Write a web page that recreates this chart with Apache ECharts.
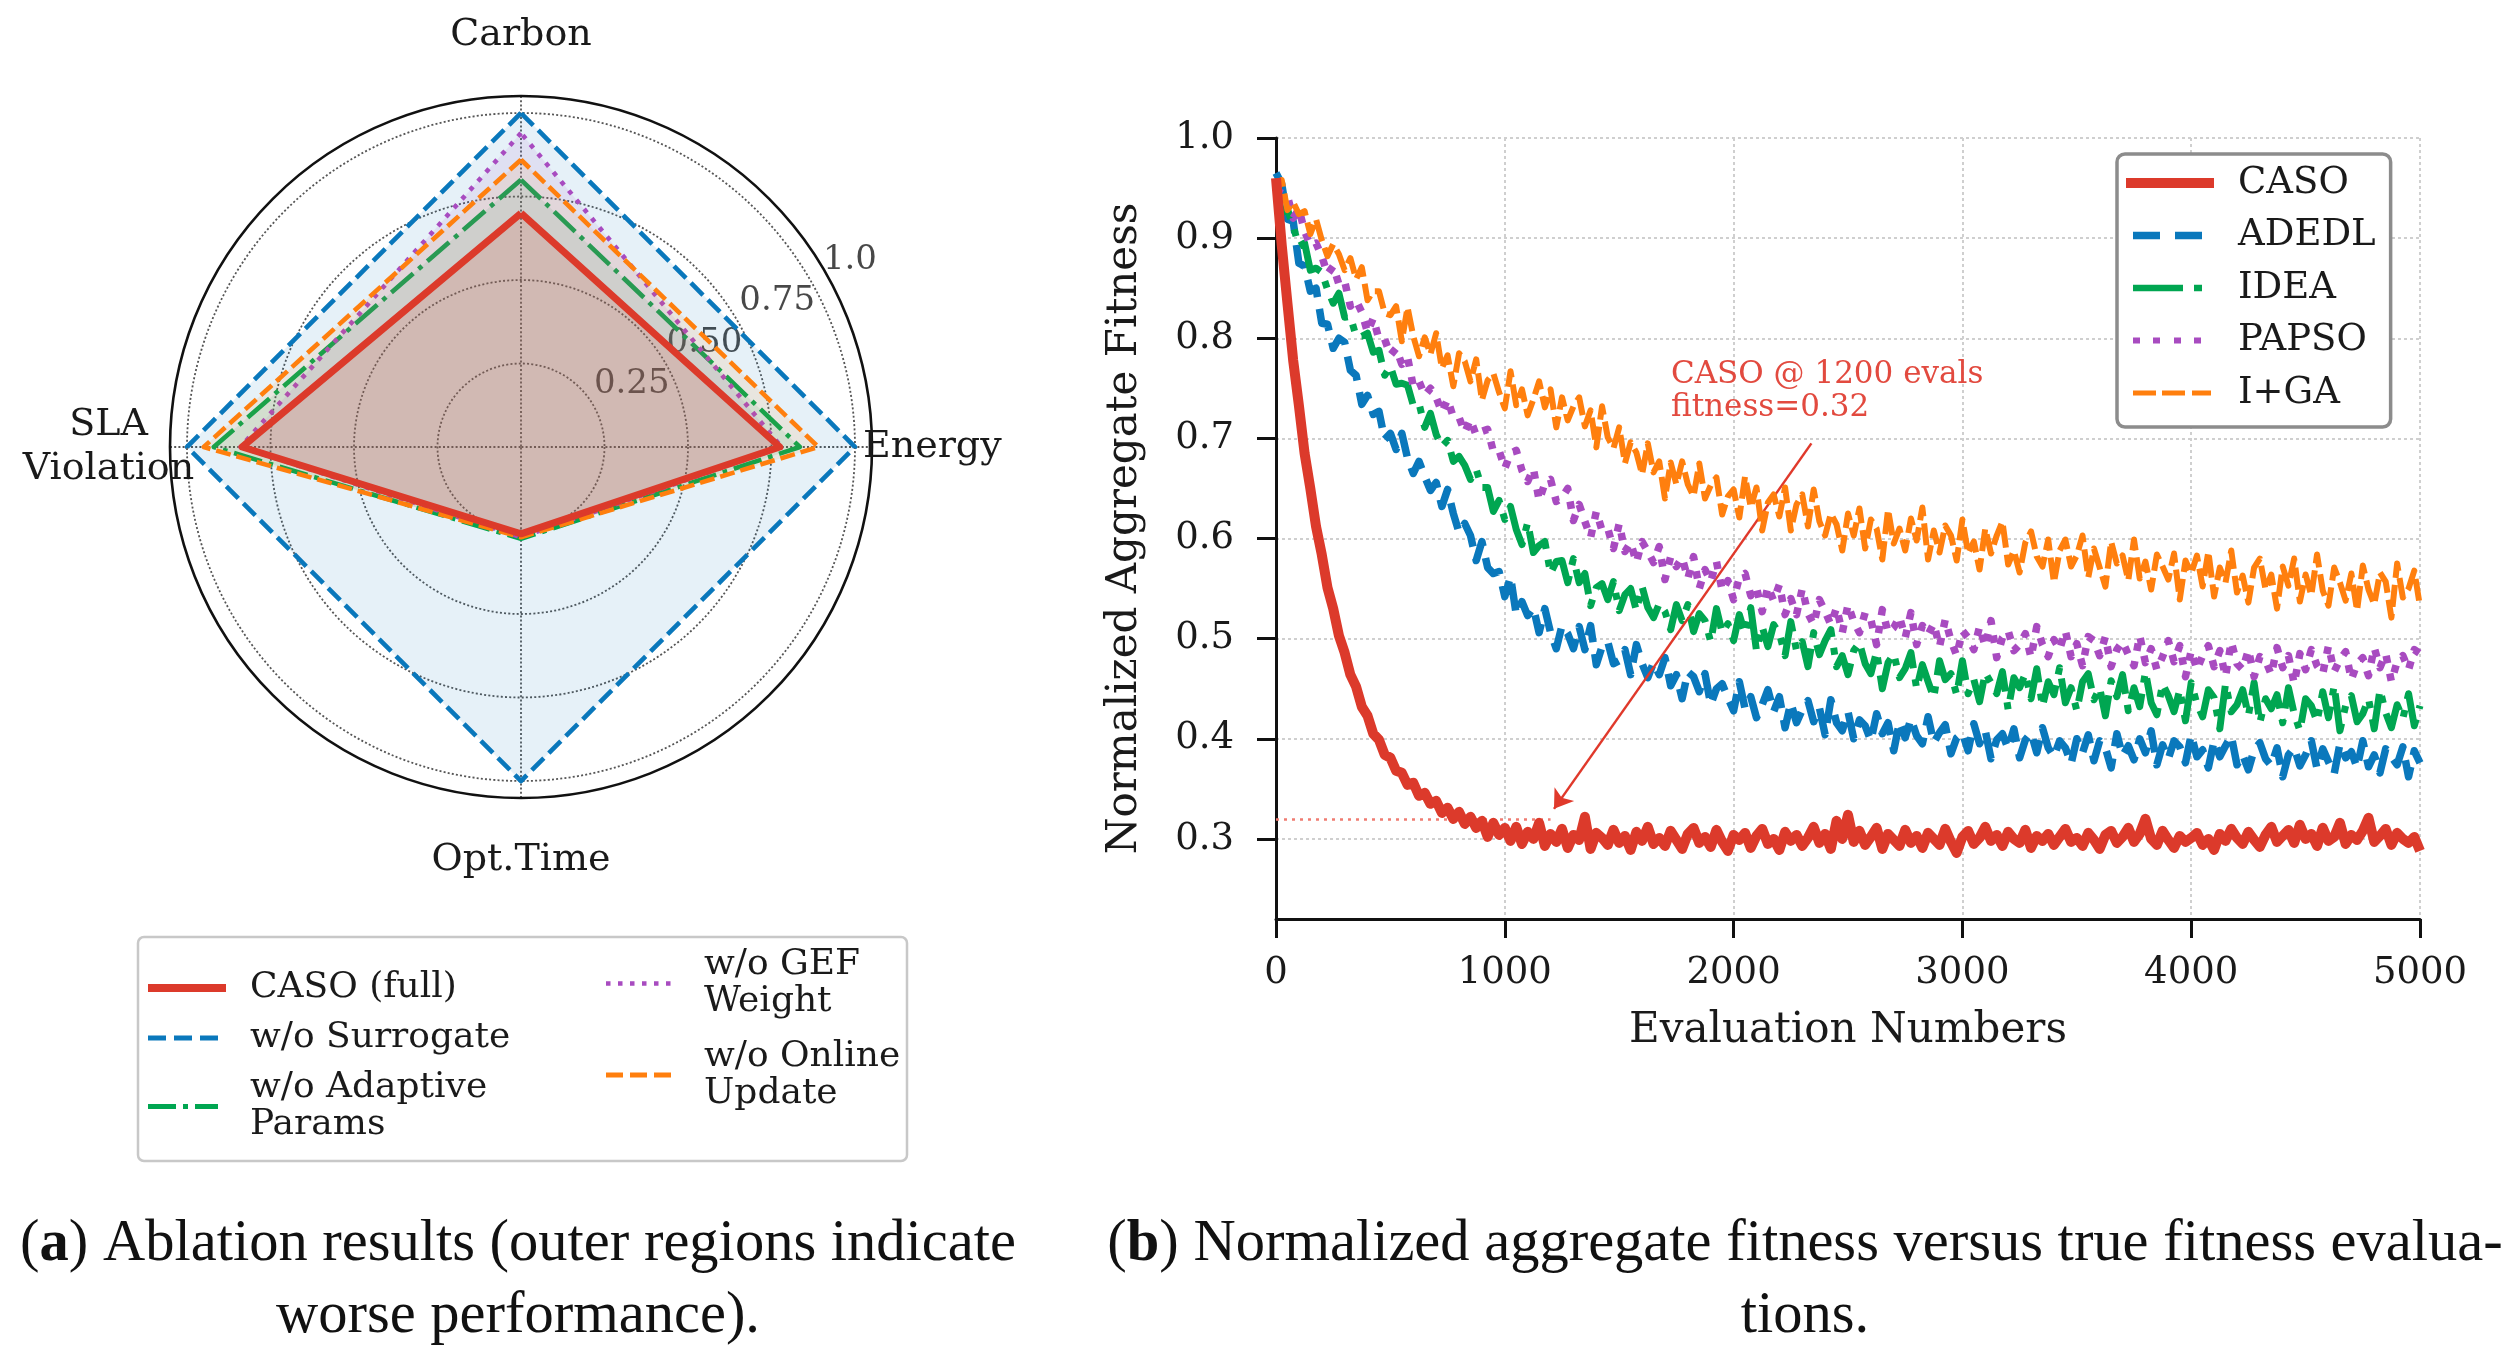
<!DOCTYPE html>
<html><head><meta charset="utf-8">
<script src="https://cdn.jsdelivr.net/npm/echarts@6/dist/echarts.min.js"></script>
<style>html,body{margin:0;padding:0;background:#fff}#c{width:2506px;height:1360px}</style>
</head><body><div id="c"></div>
<script>
// ---------- radar (ablation) ----------
const radarAxes = ['Carbon', 'SLA\nViolation', 'Opt.Time', 'Energy'];
const radarCASO = [0.70, 0.835, 0.26, 0.775];
const radarNoSurrogate = [1.0, 1.0, 1.0, 1.0];
const radarNoAdaptive = [0.80, 0.92, 0.275, 0.835];
const radarNoGEF = [0.94, 0.84, 0.27, 0.78];
const radarNoOnline = [0.86, 0.95, 0.27, 0.89];
const radialTicks = [0.25, 0.5, 0.75, 1.0];
const radialTickLabels = ['0.25', '0.50', '0.75', '1.0'];
const radarNames = ['CASO (full)', 'w/o Surrogate', 'w/o Adaptive\nParams', 'w/o GEF\nWeight', 'w/o Online\nUpdate'];

// ---------- convergence curves ----------
const evalStep = 25;
const lineNames = ['CASO', 'ADEDL', 'IDEA', 'PAPSO', 'I+GA'];
const xTicks = [0, 1000, 2000, 3000, 4000, 5000];
const yTicks = [0.3, 0.4, 0.5, 0.6, 0.7, 0.8, 0.9, 1.0];
const fitCASO = [
0.960,0.893,0.835,0.778,0.733,0.685,0.650,0.612,0.584,0.551,
0.530,0.503,0.486,0.464,0.452,0.432,0.423,0.405,0.399,0.384,
0.381,0.368,0.366,0.354,0.356,0.343,0.346,0.335,0.338,0.326,
0.331,0.320,0.327,0.315,0.322,0.311,0.318,0.302,0.316,0.304,
0.311,
0.298,0.312,0.295,0.307,0.300,0.316,0.293,0.305,0.297,0.310,0.291,0.304,0.299,0.322,0.290,0.306,0.301,0.294,0.309,0.296,
0.303,0.289,0.307,0.298,0.312,0.295,0.301,0.293,0.308,0.299,0.290,0.305,0.311,0.296,0.302,0.292,0.309,0.297,0.288,0.304,
0.299,0.306,0.291,0.303,0.310,0.295,0.300,0.289,0.307,0.298,0.304,0.293,0.301,0.312,0.296,0.305,0.290,0.318,0.300,0.324,
0.297,0.308,0.294,0.302,0.311,0.290,0.305,0.299,0.293,0.309,0.296,0.303,0.291,0.306,0.300,0.294,0.310,0.297,0.286,0.302,
0.308,0.295,0.301,0.312,0.298,0.304,0.293,0.307,0.300,0.296,0.309,0.291,0.303,0.298,0.305,0.294,0.302,0.310,0.297,0.301,
0.293,0.306,0.299,0.290,0.304,0.308,0.296,0.302,0.311,0.297,0.305,0.320,0.300,0.294,0.308,0.299,0.291,0.303,0.297,0.301,
0.306,0.294,0.300,0.289,0.305,0.298,0.310,0.301,0.295,0.307,0.299,0.292,0.304,0.312,0.297,0.303,0.309,0.296,0.314,0.300,
0.305,0.293,0.311,0.298,0.302,0.316,0.295,0.304,0.299,0.308,0.321,0.297,0.303,0.310,0.294,0.306,0.300,0.296,0.302,0.288];
const fitADEDL = [
.965,.954,.919,.917,.875,.872,.847,.850,.815,.814,
.790,.800,.796,.768,.763,.734,.743,.724,.727,.699,
.705,.689,.705,.680,.665,.677,.662,.648,.656,.632,
.649,.625,.606,.615,.603,.578,.597,.571,.565,.567,
.542,.562,.524,.537,.523,.531,.506,.530,.506,.490,
.513,.505,.490,.512,.489,.513,.474,.492,.497,.475,
.478,.489,.464,.494,.475,.461,.476,.464,.481,.453,
.464,.440,.467,.462,.447,.465,.434,.450,.455,.441,
.428,.457,.430,.442,.421,.434,.449,.427,.442,.411,
.436,.416,.429,.438,.417,.431,.404,.439,.416,.408,
.427,.400,.419,.413,.398,.425,.405,.416,.388,.417,
.401,.420,.403,.395,.422,.396,.406,.414,.385,.401,
.406,.388,.415,.395,.408,.380,.399,.405,.390,.410,
.381,.399,.406,.386,.411,.391,.382,.398,.391,.375,
.400,.386,.404,.378,.398,.391,.371,.405,.383,.393,
.379,.400,.386,.408,.374,.394,.380,.398,.392,.376,
.404,.382,.389,.371,.398,.382,.393,.403,.374,.384,
.369,.389,.396,.380,.373,.391,.362,.384,.391,.373,
.384,.398,.370,.390,.377,.365,.395,.381,.387,.371,
.398,.372,.384,.366,.390,.382,.374,.392,.362,.388,
.376];
const fitIDEA = [
.952,.925,.929,.912,.892,.895,.868,.870,.866,.849,
.835,.845,.821,.822,.802,.802,.805,.786,.788,.763,
.772,.754,.755,.753,.733,.735,.711,.725,.704,.692,
.698,.677,.682,.673,.659,.669,.651,.651,.627,.638,
.619,.632,.609,.594,.616,.586,.593,.597,.565,.577,
.578,.556,.580,.556,.565,.533,.551,.555,.539,.557,
.528,.544,.550,.528,.552,.531,.521,.535,.527,.509,
.534,.518,.534,.507,.525,.518,.497,.530,.506,.515,
.498,.524,.505,.531,.488,.512,.492,.514,.505,.483,
.517,.488,.497,.472,.506,.484,.498,.509,.472,.483,
.464,.488,.496,.475,.465,.487,.450,.476,.485,.461,
.470,.486,.450,.474,.457,.441,.478,.459,.465,.444,
.478,.445,.459,.437,.466,.456,.445,.467,.429,.461,
.451,.465,.440,.470,.432,.457,.444,.471,.436,.451,
.428,.457,.465,.439,.451,.423,.458,.442,.464,.428,
.451,.432,.467,.436,.424,.455,.443,.427,.449,.418,
.456,.435,.422,.449,.441,.410,.455,.427,.434,.449,
.423,.456,.416,.440,.430,.444,.416,.451,.425,.408,
.440,.433,.417,.447,.421,.453,.408,.433,.443,.417,
.425,.440,.410,.449,.426,.411,.434,.420,.445,.413,
.433];
const fitPAPSO = [
.941,.945,.942,.920,.929,.907,.893,.895,.882,.864,
.872,.854,.857,.832,.838,.826,.806,.820,.799,.799,
.783,.790,.774,.781,.752,.757,.743,.750,.741,.726,
.739,.721,.721,.706,.719,.703,.707,.709,.687,.688,
.670,.685,.688,.668,.657,.670,.638,.655,.659,.637,
.641,.650,.618,.634,.617,.601,.627,.608,.610,.590,
.615,.587,.596,.576,.597,.587,.576,.592,.559,.582,
.572,.581,.560,.582,.550,.569,.557,.577,.548,.558,
.539,.561,.565,.543,.551,.527,.552,.538,.554,.524,
.540,.524,.550,.525,.514,.539,.527,.514,.531,.506,
.534,.517,.506,.526,.519,.494,.529,.506,.511,.522,
.501,.526,.494,.513,.504,.515,.492,.519,.498,.483,
.508,.501,.489,.512,.492,.518,.481,.501,.508,.488,
.494,.505,.481,.512,.494,.482,.499,.489,.508,.482,
.495,.473,.502,.498,.483,.502,.472,.489,.497,.484,
.473,.503,.476,.490,.469,.482,.498,.477,.493,.462,
.488,.469,.483,.493,.472,.488,.462,.497,.475,.469,
.489,.462,.482,.478,.464,.491,.471,.483,.455,.485,
.469,.489,.473,.465,.493,.467,.479,.487,.459,.475,
.481,.463,.491,.471,.485,.457,.477,.483,.469,.489,
.485];
const fitIGA = [
.944,.958,.928,.936,.924,.927,.904,.919,.898,.882,
.894,.884,.868,.880,.859,.871,.838,.847,.847,.825,
.823,.832,.797,.831,.802,.782,.801,.784,.805,.770,
.783,.752,.785,.777,.757,.779,.738,.758,.765,.746,
.730,.767,.733,.749,.723,.739,.757,.731,.749,.711,
.741,.718,.732,.741,.712,.728,.691,.732,.701,.690,
.711,.675,.696,.686,.664,.695,.666,.677,.640,.676,
.654,.677,.654,.642,.675,.640,.653,.661,.624,.642,
.649,.621,.662,.631,.651,.608,.636,.644,.622,.651,
.608,.634,.644,.612,.649,.617,.603,.625,.614,.588,
.625,.603,.630,.590,.619,.610,.579,.629,.595,.610,
.588,.620,.598,.631,.579,.608,.586,.613,.603,.578,
.619,.585,.597,.569,.610,.585,.603,.617,.574,.588,
.566,.596,.607,.582,.572,.599,.556,.588,.599,.572,
.583,.603,.561,.590,.571,.552,.597,.575,.583,.558,
.599,.560,.577,.549,.584,.572,.559,.585,.539,.578,
.565,.583,.552,.587,.542,.571,.556,.588,.546,.563,
.536,.571,.580,.549,.564,.530,.572,.553,.580,.537,
.564,.543,.584,.548,.533,.571,.556,.538,.565,.528,
.573,.549,.534,.566,.557,.521,.575,.541,.550,.568,
.532];
// annotation (data space)
const annotText = 'CASO @ 1200 evals\nfitness=0.32';
const annotTextAt = [1724, 0.7465];
const arrowFrom = [2340, 0.695];
const arrowTo = [1215, 0.33];
const refLevel = 0.32;
const refLevelEnd = 1200;

// ---------- styles ----------
const C = { red: '#dc3a2b', blue: '#0a78bc', green: '#00a651', purple: '#a84bc0', orange: '#ff7f0e' };
const SERIF = 'DejaVu Serif';
const speck = (w, h) => 'M0,0h0.01v0.01h-0.01z M' + (w - 0.01) + ',' + (h - 0.01) + 'h0.01v0.01h-0.01z ';
const bars = (segs, y0, y1) => segs.map(s => 'M' + s[0] + ',' + y0 + 'H' + s[1] + 'V' + y1 + 'H' + s[0] + 'Z').join(' ');
// radar legend icons (78x8 / 68x8)
const rIcon = {
  red: 'path://M0,0H78V8H0Z',
  blue: 'path://' + speck(78, 8) + bars([[0, 18], [26, 44], [52, 70]], 1.5, 6.5),
  green: 'path://' + speck(78, 8) + bars([[0, 28], [35, 40], [47, 70]], 1.5, 6.5),
  purple: 'path://' + speck(68, 8) + bars([[0, 4.5], [12, 16.5], [24, 28.5], [36, 40.5], [48, 52.5], [60, 64.5]], 1.75, 6.25),
  orange: 'path://' + speck(68, 8) + bars([[0, 17], [24, 41], [48, 65]], 1.5, 6.5)
};
// line legend icons (88x10)
const lIcon = {
  red: 'path://M0,0H88V10H0Z',
  blue: 'path://' + speck(88, 10) + bars([[7, 34], [49, 76]], 1.2, 8.8),
  green: 'path://' + speck(88, 10) + bars([[7, 57], [68, 76]], 1.7, 8.3),
  purple: 'path://' + speck(88, 10) + bars([[7, 14], [27, 34], [48, 55], [68, 75]], 2, 8),
  orange: 'path://' + speck(88, 10) + bars([[7, 30], [36, 59], [66, 85]], 2.5, 7.5)
};

function radarSeries(name, values, color, width, type, areaOpacity, z) {
  return {
    type: 'radar', radarIndex: 0, name: name, z: z, symbol: 'none', silent: true,
    itemStyle: { color: color },
    lineStyle: { color: color, width: width, type: type },
    areaStyle: { color: color, opacity: areaOpacity },
    data: [{ name: name, value: values }]
  };
}
function lineSeries(name, values, color, width, type, z, extra) {
  return Object.assign({
    type: 'line', name: name, z: z, symbol: 'none', showSymbol: false, silent: true,
    itemStyle: { color: color },
    lineStyle: { color: color, width: width, type: type, join: 'round' },
    data: values.map((v, i) => [i * evalStep, v])
  }, extra || {});
}

const chart = echarts.init(document.getElementById('c'));
const capStyle = { fontFamily: 'Liberation Serif', fontSize: 58.5, fontWeight: 'normal', lineHeight: 72, color: '#111',
  rich: { b: { fontFamily: 'Liberation Serif', fontSize: 58.5, fontWeight: 'bold', lineHeight: 72, color: '#111' } } };
const option = {
  animation: false,
  backgroundColor: '#ffffff',
  title: [
    { text: '({b|a}) Ablation results (outer regions indicate\nworse performance).', left: 513, top: 1204, textAlign: 'center', textStyle: capStyle },
    { text: '({b|b}) Normalized aggregate fitness versus true fitness evalua-\ntions.', left: 1800, top: 1204, textAlign: 'center', textStyle: capStyle }
  ],
  graphic: [
    { type: 'rect', z: 0, shape: { x: 138, y: 937, width: 769, height: 224, r: 6 }, style: { fill: '#ffffff', stroke: '#c8c8c8', lineWidth: 2.5 } }
  ],
  legend: [
    { orient: 'vertical', left: 148, top: 969.5, padding: 0, itemGap: 13, itemWidth: 78, itemHeight: 8,
      itemStyle: { borderWidth: 0 },
      textStyle: { fontFamily: SERIF, fontSize: 36, lineHeight: 37, color: '#1a1a1a', padding: [0, 0, 0, 19] },
      data: [{ name: radarNames[0], icon: rIcon.red }, { name: radarNames[1], icon: rIcon.blue }, { name: radarNames[2], icon: rIcon.green }] },
    { orient: 'vertical', left: 606, top: 946.5, padding: 0, itemGap: 17.5, itemWidth: 68, itemHeight: 8,
      itemStyle: { borderWidth: 0 },
      textStyle: { fontFamily: SERIF, fontSize: 36, lineHeight: 37, color: '#1a1a1a', padding: [0, 0, 0, 25] },
      data: [{ name: radarNames[3], icon: rIcon.purple }, { name: radarNames[4], icon: rIcon.orange }] },
    { orient: 'vertical', left: 2117, top: 154, padding: [9, 15, 14, 9], itemGap: 12.5, itemWidth: 88, itemHeight: 10,
      backgroundColor: '#ffffff', borderColor: '#8c8c8c', borderWidth: 3.5, borderRadius: 8,
      itemStyle: { borderWidth: 0 },
      textStyle: { fontFamily: SERIF, fontSize: 37, lineHeight: 40, color: '#1a1a1a', padding: [0, 0, 0, 19] },
      data: [{ name: lineNames[0], icon: lIcon.red }, { name: lineNames[1], icon: lIcon.blue }, { name: lineNames[2], icon: lIcon.green },
             { name: lineNames[3], icon: lIcon.purple }, { name: lineNames[4], icon: lIcon.orange }] }
  ],
  radar: [{
    center: [521, 447], radius: 334, startAngle: 90, shape: 'circle', splitNumber: 4,
    indicator: radarAxes.map(n => ({ name: n, min: 0, max: 1 })),
    axisNameGap: -9,
    axisName: {
      color: '#1a1a1a', fontFamily: SERIF, fontSize: 38,
      formatter: function (name) {
        if (name === 'Carbon') return '{t|Carbon}';
        if (name === 'Energy') return '{r|Energy}';
        if (name === 'Opt.Time') return '{bt|Opt.Time}';
        return name.split('\n').map(s => '{l|' + s + '}').join('\n');
      },
      rich: {
        t: { fontFamily: SERIF, fontSize: 38, lineHeight: 174, color: '#1a1a1a' },
        r: { fontFamily: SERIF, fontSize: 38, lineHeight: 44, padding: [0, 0, 0, 17], color: '#1a1a1a' },
        bt: { fontFamily: SERIF, fontSize: 38, lineHeight: 176, color: '#1a1a1a' },
        l: { fontFamily: SERIF, fontSize: 38, lineHeight: 44, width: 175, align: 'center', color: '#1a1a1a' }
      }
    },
    axisLine: { show: false }, axisTick: { show: false }, axisLabel: { show: false },
    splitLine: { lineStyle: { color: '#555555', width: 1.8, type: [2, 2.2] } },
    splitArea: { show: false }
  }],
  polar: [{ center: [521, 447], radius: 351 }],
  angleAxis: [{
    polarIndex: 0, type: 'value', min: 0, max: 360, interval: 90, startAngle: 0, clockwise: false,
    axisLine: { show: true, lineStyle: { color: '#111111', width: 2.6 } },
    axisTick: { show: false }, axisLabel: { show: false },
    splitLine: { show: true, lineStyle: { color: '#555555', width: 1.8, type: [2, 2.2] } }
  }],
  radiusAxis: [{ polarIndex: 0, type: 'value', min: 0, max: 1.05, show: false }],
  grid: [{ left: 1276, top: 138, width: 1144, height: 781, containLabel: false }],
  xAxis: [{
    gridIndex: 0, type: 'value', min: 0, max: 5000, interval: 1000,
    name: 'Evaluation Numbers', nameLocation: 'middle', nameGap: 91,
    nameTextStyle: { fontFamily: SERIF, fontSize: 42, color: '#1a1a1a' },
    axisLine: { onZero: false, lineStyle: { color: '#111', width: 3 } },
    axisTick: { length: 19, lineStyle: { color: '#111', width: 3 } },
    axisLabel: { fontFamily: SERIF, fontSize: 37, color: '#1a1a1a', margin: 36, formatter: v => String(v) },
    splitLine: { show: true, lineStyle: { color: '#cfcfcf', width: 2, type: [3, 3] } }
  }],
  yAxis: [{
    gridIndex: 0, type: 'value', min: 0.22, max: 1.0,
    name: 'Normalized Aggregate Fitness', nameLocation: 'middle', nameGap: 130, nameRotate: 90,
    nameTextStyle: { fontFamily: SERIF, fontSize: 42, color: '#1a1a1a' },
    axisLine: { onZero: false, lineStyle: { color: '#111', width: 3 } },
    axisTick: { length: 19, customValues: yTicks, lineStyle: { color: '#111', width: 3 } },
    axisLabel: { fontFamily: SERIF, fontSize: 37, color: '#1a1a1a', margin: 42, customValues: yTicks, formatter: v => v.toFixed(1) },
    splitLine: { show: true, lineStyle: { color: '#cfcfcf', width: 2, type: [3, 3] } }
  }],
  series: [
    {
      type: 'scatter', coordinateSystem: 'polar', polarIndex: 0, z: 1, silent: true,
      symbolSize: 1, itemStyle: { color: 'rgba(0,0,0,0)' },
      data: radialTicks.map(v => [v, 29.5]),
      label: { show: true, position: 'inside', offset: [38, -22], fontFamily: SERIF, fontSize: 34, color: '#1a1a1a',
        formatter: p => radialTickLabels[p.dataIndex] }
    },
    radarSeries(radarNames[1], radarNoSurrogate, C.blue, 4.6, [17, 7], 0.1, 3),
    radarSeries(radarNames[2], radarNoAdaptive, C.green, 4.6, [29, 7, 4.6, 7], 0.1, 4),
    radarSeries(radarNames[3], radarNoGEF, C.purple, 4.6, [4.6, 7.4], 0.1, 5),
    radarSeries(radarNames[4], radarNoOnline, C.orange, 4.6, [15, 6], 0.1, 6),
    radarSeries(radarNames[0], radarCASO, C.red, 7, 'solid', 0.15, 7),

    lineSeries(lineNames[1], fitADEDL, C.blue, 7.5, [27, 12], 3),
    lineSeries(lineNames[2], fitIDEA, C.green, 7, [45, 11, 7, 11], 4),
    lineSeries(lineNames[3], fitPAPSO, C.purple, 7.5, [7.5, 10.5], 5),
    lineSeries(lineNames[4], fitIGA, C.orange, 6, [22, 7], 6),
    lineSeries(lineNames[0], fitCASO, C.red, 10, 'solid', 7, {
      markLine: {
        silent: true, animation: false, label: { show: false },
        data: [
          [{ coord: [0, refLevel], symbol: 'none', lineStyle: { color: '#f07c72', width: 2.5, type: [3, 5] } },
           { coord: [refLevelEnd, refLevel], symbol: 'none' }],
          [{ coord: arrowFrom, symbol: 'none', lineStyle: { color: '#e0392b', width: 2.5, type: 'solid' } },
           { coord: arrowTo, symbol: 'arrow', symbolSize: 18 }]
        ]
      },
      markPoint: {
        silent: true, animation: false,
        data: [{ coord: annotTextAt, symbol: 'circle', symbolSize: 1, itemStyle: { color: 'rgba(0,0,0,0)' },
          label: { show: true, position: 'right', distance: 0, formatter: annotText, fontFamily: SERIF, fontSize: 31, lineHeight: 33, color: '#e24a3f', align: 'left' } }]
      }
    })
  ]
};
chart.setOption(option);
</script>
</body></html>
